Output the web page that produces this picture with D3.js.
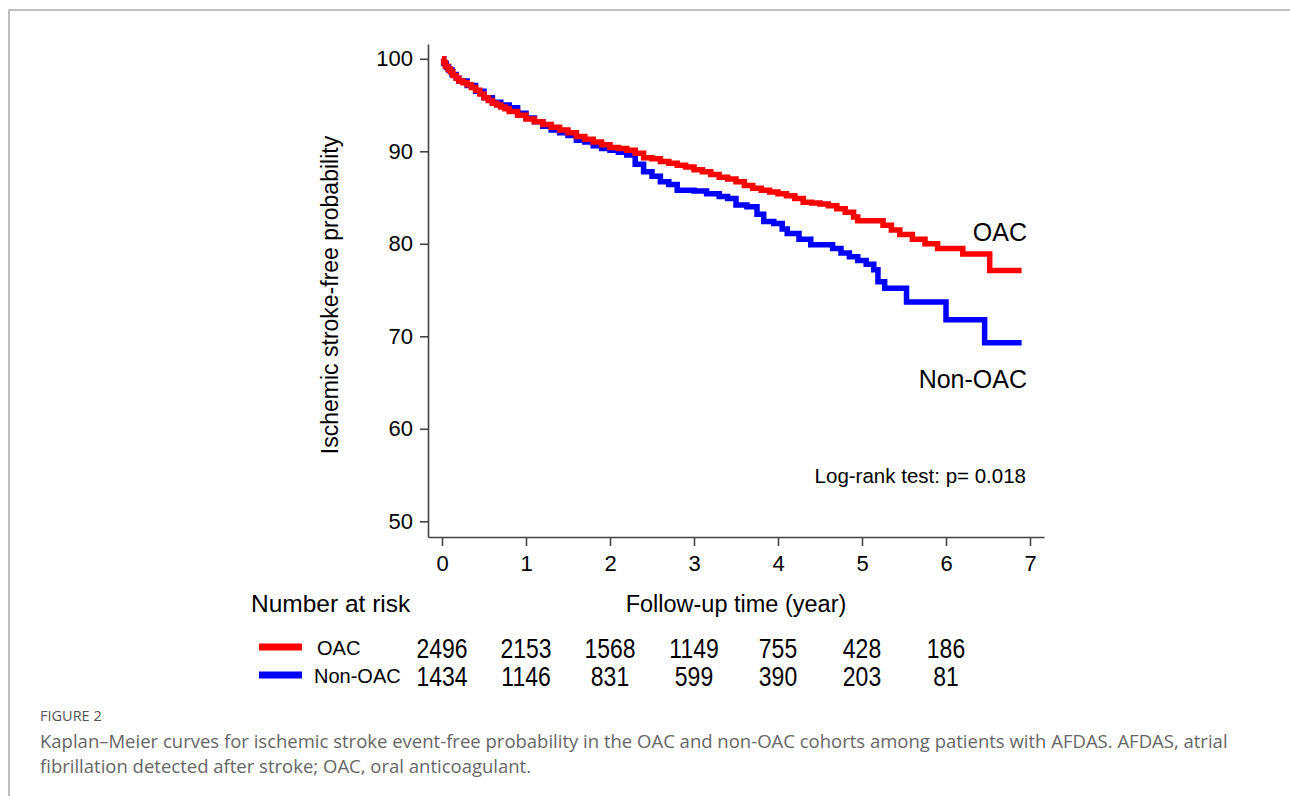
<!DOCTYPE html>
<html>
<head>
<meta charset="utf-8"/>
<title>Kaplan-Meier OAC vs Non-OAC</title>
<script src="https://cdn.jsdelivr.net/npm/d3@7/dist/d3.min.js"></script>
<style>
  body { margin: 0; background: #fff; }
  svg { display: block; }
  .chart text { font-family: "Liberation Sans", Arial, sans-serif; fill: #000; }
  .caption text { font-family: "Open Sans", sans-serif; }
</style>
</head>
<body>
<svg id="km" width="1290" height="796"></svg>
<script>

// ---- data ----
var timeTicks = [0, 1, 2, 3, 4, 5, 6, 7];
var probTicks = [50, 60, 70, 80, 90, 100];
var groups = ["OAC", "Non-OAC"];

// OAC (red) Kaplan-Meier steps: time in years, event-free probability in %
var oacTime = [0, 0.02, 0.04, 0.07, 0.1, 0.13, 0.17, 0.2, 0.25, 0.3, 0.35, 0.4, 0.45, 0.5, 0.55, 0.6, 0.65, 0.7, 0.75, 0.8, 0.9,
  1.0, 1.1, 1.2, 1.3, 1.4, 1.5, 1.6, 1.7, 1.8, 1.9, 2.0, 2.1, 2.2, 2.3, 2.4, 2.5, 2.6, 2.7, 2.8, 2.9,
  3.0, 3.1, 3.2, 3.3, 3.4, 3.5, 3.6, 3.7, 3.8, 3.9, 4.0, 4.1, 4.2, 4.3, 4.4, 4.5, 4.6, 4.7, 4.8, 4.9, 4.95,
  5.25, 5.35, 5.45, 5.6, 5.75, 5.9, 6.2, 6.52, 6.9];
var oacSurv = [100, 99.6, 99.2, 98.9, 98.6, 98.2, 97.9, 97.6, 97.4, 97.2, 96.9, 96.6, 96.2, 95.8, 95.5, 95.2, 95.0, 94.8, 94.6, 94.3, 93.9,
  93.5, 93.2, 92.9, 92.6, 92.3, 92.0, 91.6, 91.3, 91.0, 90.7, 90.4, 90.3, 90.1, 89.8, 89.3, 89.2, 88.9, 88.7, 88.5, 88.3,
  88.0, 87.8, 87.5, 87.2, 87.0, 86.7, 86.3, 86.0, 85.8, 85.6, 85.4, 85.2, 84.9, 84.5, 84.4, 84.3, 84.1, 83.8, 83.4, 82.9, 82.5,
  82.0, 81.5, 81.0, 80.5, 80.0, 79.5, 78.9, 77.1, 77.1];

// Non-OAC (blue)
var nonOacTime = [0, 0.02, 0.05, 0.08, 0.12, 0.17, 0.2, 0.3, 0.4, 0.5, 0.6, 0.7, 0.8, 0.9,
  1.0, 1.1, 1.2, 1.3, 1.4, 1.5, 1.6, 1.7, 1.8, 1.9, 2.0, 2.1, 2.2, 2.3, 2.4, 2.5, 2.6, 2.7, 2.8,
  3.0, 3.15, 3.3, 3.4, 3.5, 3.63, 3.75, 3.83, 3.95, 4.05, 4.11, 4.25, 4.39, 4.65, 4.75, 4.85, 4.95,
  5.05, 5.14, 5.19, 5.27, 5.53, 6.0, 6.46, 6.9];
var nonOacSurv = [100, 99.5, 99.1, 98.8, 98.3, 97.9, 97.6, 97.1, 96.5, 95.8, 95.3, 95.0, 94.7, 94.1,
  93.6, 93.2, 92.7, 92.3, 92.0, 91.7, 91.2, 91.0, 90.6, 90.3, 90.1, 89.9, 89.6, 88.6, 87.8, 87.3, 86.7, 86.4, 85.8,
  85.7, 85.4, 85.1, 84.9, 84.2, 84.0, 83.2, 82.4, 82.2, 81.6, 81.1, 80.5, 79.9, 79.5, 79.0, 78.6, 78.2,
  77.8, 77.2, 75.9, 75.2, 73.7, 71.8, 69.3, 69.3];

// number at risk at years 0..6
var riskOac = [2496, 2153, 1568, 1149, 755, 428, 186];
var riskNonOac = [1434, 1146, 831, 599, 390, 203, 81];

var colors = { "OAC": "#ff0000", "Non-OAC": "#0000ff" };

// ---- drawing ----
var svg = d3.select("#km");

// figure frame (top and left rule)
svg.append("path")
    .attr("d", "M9,796 V10 H1290")
    .attr("fill", "none")
    .attr("stroke", "#a9a9a9")
    .attr("stroke-width", 1.5);

var g = svg.append("g").attr("class", "chart");

var x = d3.scaleLinear().domain([-1 / 6, 7 + 1 / 6]).range([428, 1044]);
var y = d3.scaleLinear().domain([48.3, 101.6]).range([537, 44]);

var yAxis = g.append("g")
    .attr("transform", "translate(" + x.range()[0] + ",0)")
    .call(d3.axisLeft(y).tickValues(probTicks).tickSize(8).tickSizeOuter(0).tickPadding(7));
var xAxis = g.append("g")
    .attr("transform", "translate(0," + y.range()[0] + ")")
    .call(d3.axisBottom(x).tickValues(timeTicks).tickSize(9).tickSizeOuter(0).tickPadding(9));

[xAxis, yAxis].forEach(function(a) {
  a.selectAll(".domain").attr("stroke", "#444").attr("stroke-width", 1.6);
  a.selectAll(".tick line").attr("stroke", "#444").attr("stroke-width", 1.6);
  a.selectAll(".tick text")
      .attr("font-family", "'Liberation Sans', Arial, sans-serif")
      .attr("font-size", 22)
      .attr("fill", "#000");
});

g.append("text")
    .attr("transform", "translate(338,295) rotate(-90)")
    .attr("text-anchor", "middle")
    .attr("font-size", 23)
    .text("Ischemic stroke-free probability");

var line = d3.line()
    .curve(d3.curveStepAfter)
    .x(function(d) { return x(d[0]); })
    .y(function(d) { return y(d[1]); });

var series = [
  { name: "Non-OAC", values: d3.zip(nonOacTime, nonOacSurv) },
  { name: "OAC", values: d3.zip(oacTime, oacSurv) }
];

g.selectAll(".km")
  .data(series)
  .enter().append("path")
    .attr("class", "km")
    .attr("fill", "none")
    .attr("stroke", function(d) { return colors[d.name]; })
    .attr("stroke-width", 5.5)
    .attr("stroke-linejoin", "miter")
    .attr("d", function(d) { return line(d.values); });

// curve labels
g.append("text")
    .attr("x", 1027).attr("y", 241)
    .attr("text-anchor", "end")
    .attr("font-size", 25)
    .text(groups[0]);
g.append("text")
    .attr("x", 1027).attr("y", 388)
    .attr("text-anchor", "end")
    .attr("font-size", 25)
    .text(groups[1]);

g.append("text")
    .attr("x", 1026).attr("y", 483)
    .attr("text-anchor", "end")
    .attr("font-size", 20.5)
    .text("Log-rank test: p= 0.018");

// bottom titles
g.append("text")
    .attr("x", 251).attr("y", 612)
    .attr("font-size", 24.5)
    .text("Number at risk");
g.append("text")
    .attr("x", 736).attr("y", 612)
    .attr("text-anchor", "middle")
    .attr("font-size", 23.5)
    .text("Follow-up time (year)");

// risk table
var riskRows = [
  { name: "OAC", counts: riskOac, y: 648, labelX: 317 },
  { name: "Non-OAC", counts: riskNonOac, y: 676, labelX: 314 }
];

var row = g.selectAll(".risk")
  .data(riskRows)
  .enter().append("g")
    .attr("class", "risk");

row.append("line")
    .attr("x1", 259).attr("x2", 302)
    .attr("y1", function(d) { return d.y - 1; })
    .attr("y2", function(d) { return d.y - 1; })
    .attr("stroke", function(d) { return colors[d.name]; })
    .attr("stroke-width", 7);

row.append("text")
    .attr("x", function(d) { return d.labelX; })
    .attr("y", function(d) { return d.y + 7; })
    .attr("font-size", 20)
    .text(function(d) { return d.name; });

// the counts are set in a narrow face: squeeze regular sans horizontally
row.selectAll(".n")
  .data(function(d) { return d.counts.map(function(c, i) { return { c: c, t: timeTicks[i], y: d.y }; }); })
  .enter().append("text")
    .attr("class", "n")
    .attr("transform", function(d) { return "translate(" + x(d.t) + "," + (d.y + 10) + ") scale(0.82,1)"; })
    .attr("text-anchor", "middle")
    .attr("font-size", 28)
    .text(function(d) { return d.c; });

// caption
var cap = svg.append("g").attr("class", "caption");
cap.append("text")
    .attr("x", 40).attr("y", 721)
    .attr("font-size", 14.5)
    .attr("fill", "#555")
    .text("FIGURE 2");

var capLines = [
  "Kaplan\u2013Meier curves for ischemic stroke event-free probability in the OAC and non-OAC cohorts among patients with AFDAS. AFDAS, atrial",
  "fibrillation detected after stroke; OAC, oral anticoagulant."
];
var capText = cap.selectAll(".cl")
  .data(capLines)
  .enter().append("text")
    .attr("class", "cl")
    .attr("x", 40)
    .attr("y", function(d, i) { return 748 + i * 25; })
    .attr("font-size", 17)
    .attr("fill", "#666")
    .text(function(d) { return d; });

// fit the first caption line to the width it has in the figure
var w0 = capText.node().getComputedTextLength();
capText.attr("font-size", 17 * 1188 / w0);

</script>
</body>
</html>
